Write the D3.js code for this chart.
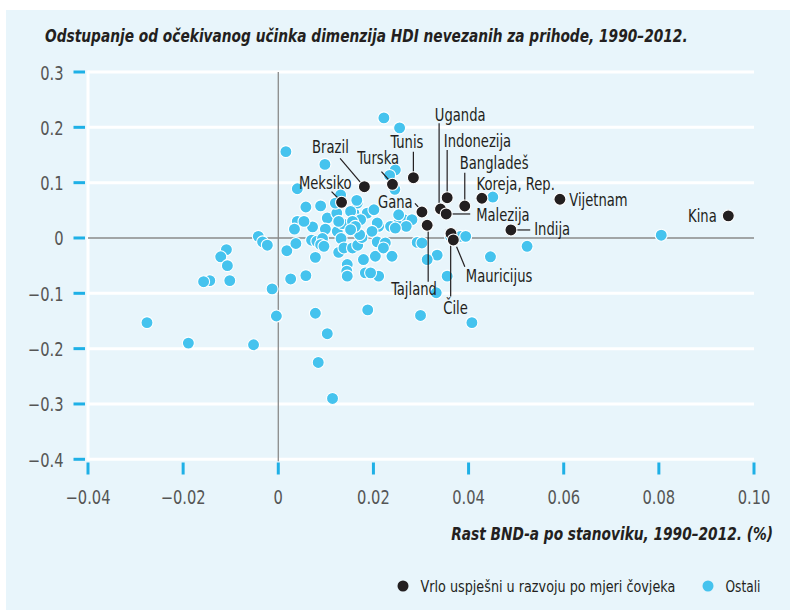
<!DOCTYPE html>
<html>
<head>
<meta charset="utf-8">
<script src="https://cdn.jsdelivr.net/npm/d3@7"></script>
<style>
  body { margin: 0; background: #fff; }
  svg text { font-family: "Liberation Sans Narrow", "DejaVu Sans Condensed", sans-serif; }
</style>
</head>
<body>
<div id="chart"></div>
<script>
// ---- data ----
var xTicks = [-0.04, -0.02, 0, 0.02, 0.04, 0.06, 0.08, 0.10];
var xTickLabels = ["\u22120.04", "\u22120.02", "0", "0.02", "0.04", "0.06", "0.08", "0.10"];
var yTicks = [0.3, 0.2, 0.1, 0, -0.1, -0.2, -0.3, -0.4];
var yTickLabels = ["0.3", "0.2", "0.1", "0", "\u22120.1", "\u22120.2", "\u22120.3", "\u22120.4"];

// [GNI growth, deviation]
var others = [
  [0.0222, 0.217], [0.0255, 0.199], [0.0016, 0.156], [0.0098, 0.133], [0.0040, 0.089],
  [0.0246, 0.123], [0.0234, 0.113], [0.0245, 0.088], [0.0451, 0.074], [0.0805, 0.005],
  [0.0523, -0.015], [0.0446, -0.034], [0.0362, 0.003], [0.0383, 0.003], [0.0394, 0.003],
  [0.0407, -0.153], [0.0299, -0.140], [0.0188, -0.130], [0.0078, -0.136], [0.0103, -0.173],
  [-0.0004, -0.141], [-0.0013, -0.092], [0.0332, -0.099], [0.0084, -0.225], [0.0114, -0.290],
  [-0.0052, -0.193], [-0.0189, -0.190], [-0.0276, -0.153], [-0.0042, 0.003], [-0.0033, -0.007],
  [-0.0023, -0.013], [-0.0109, -0.021], [-0.0121, -0.034], [-0.0107, -0.050], [-0.0102, -0.077],
  [-0.0144, -0.077], [-0.0157, -0.079], [0.0018, -0.023], [0.0037, -0.010], [0.0026, -0.074],
  [0.0058, -0.068], [0.0078, -0.035], [0.0058, 0.056], [0.0089, 0.058], [0.0040, 0.030],
  [0.0034, 0.016], [0.0072, 0.020], [0.0103, 0.036], [0.0099, 0.016], [0.0070, -0.004],
  [0.0081, -0.006], [0.0093, -0.001], [0.0089, -0.012], [0.0124, 0.012], [0.0132, -0.001],
  [0.0127, -0.026], [0.0138, -0.018], [0.0156, -0.018], [0.0167, -0.013], [0.0145, -0.048],
  [0.0144, -0.060], [0.0145, -0.069], [0.0123, 0.045], [0.0159, 0.045], [0.0162, 0.033],
  [0.0166, 0.063], [0.0131, 0.078], [0.0165, 0.068], [0.0120, 0.063], [0.0152, 0.048],
  [0.0187, 0.045], [0.0173, 0.033], [0.0135, 0.026], [0.0156, 0.030], [0.0201, 0.051],
  [0.0211, 0.021], [0.0208, 0.027], [0.0264, 0.033], [0.0281, 0.033], [0.0250, 0.024],
  [0.0236, 0.021], [0.0253, 0.042], [0.0269, 0.021], [0.0292, -0.008], [0.0302, -0.009],
  [0.0334, -0.031], [0.0313, -0.039], [0.0096, -0.015], [0.0176, 0.001], [0.0171, 0.006],
  [0.0162, 0.021], [0.0197, 0.012], [0.0208, -0.007], [0.0179, -0.039], [0.0183, -0.063],
  [0.0211, -0.069], [0.0204, -0.033], [0.0152, 0.015], [0.0246, 0.018], [0.0225, -0.009],
  [0.0221, -0.018], [0.0239, -0.033], [0.0194, -0.063], [0.0355, -0.069], [0.0127, 0.030],
  [0.0054, 0.030]
];

var achievers = [
  { name: "Kina", x: 0.0946, y: 0.040 },
  { name: "Vijetnam", x: 0.0592, y: 0.070 },
  { name: "Indija", x: 0.0489, y: 0.0145 },
  { name: "Koreja, Rep.", x: 0.0428, y: 0.0718 },
  { name: "Bangladeš", x: 0.0392, y: 0.0578 },
  { name: "Indonezija", x: 0.0355, y: 0.0728 },
  { name: "Uganda", x: 0.0341, y: 0.0524 },
  { name: "Malezija", x: 0.0353, y: 0.0434 },
  { name: "Tunis", x: 0.0284, y: 0.109 },
  { name: "Turska", x: 0.0240, y: 0.097 },
  { name: "Brazil", x: 0.0181, y: 0.0927 },
  { name: "Meksiko", x: 0.0133, y: 0.0645 },
  { name: "Gana", x: 0.0302, y: 0.047 },
  { name: "Tajland", x: 0.0313, y: 0.023 },
  { name: "Čile", x: 0.0363, y: 0.008 },
  { name: "Mauricijus", x: 0.0368, y: -0.0036 }
];

var legendItems = ["Vrlo uspješni u razvoju po mjeri čovjeka", "Ostali"];

// label placement, offsets in px from the point
var labelLayout = {
  "Kina":         { dx: -11.6, dy: 5.7, anchor: "end" },
  "Vijetnam":     { dx: 9.3, dy: 6.7, anchor: "start" },
  "Indija":       { dx: 23.3, dy: 5, anchor: "start", line: [5, 0, 19.3, 0] },
  "Koreja, Rep.": { dx: -5.3, dy: -8.3, anchor: "start" },
  "Bangladeš":    { dx: -5, dy: -37, anchor: "start", line: [0, -33.3, 0, 0] },
  "Indonezija":   { dx: -3.3, dy: -51, anchor: "start", line: [0, -47.7, 0, 0] },
  "Uganda":       { dx: -5.7, dy: -88.3, anchor: "start", line: [-1.4, -85.7, -1.4, 0] },
  "Malezija":     { dx: 30, dy: 6.7, anchor: "start", line: [4, 0, 24, 0] },
  "Tunis":        { dx: 10, dy: -29.4, anchor: "end", line: [0, -26, 0, 0] },
  "Turska":       { dx: 6.6, dy: -20.3, anchor: "end", line: [-11, -12.6, -2.7, -3.3] },
  "Brazil":       { dx: -15.6, dy: -34, anchor: "end", line: [-24.3, -28.4, -2, -2] },
  "Meksiko":      { dx: 10, dy: -13, anchor: "end", line: [-10, -10.6, -1.7, -2.3] },
  "Gana":         { dx: -9.3, dy: -3.7, anchor: "end", line: [-7, -8.7, -1, -2] },
  "Tajland":      { dx: 9.7, dy: 69.7, anchor: "end", line: [1, 0, 1, 56.4] },
  "Čile":         { dx: -7.7, dy: 80.8, anchor: "start", line: [-0.3, 0, -0.3, 63] },
  "Mauricijus":   { dx: 12.5, dy: 42, anchor: "start", line: [3.2, 6.7, 11.5, 26.7] }
};

// ---- layout ----
var width = 790, height = 614;
var blue = "#45c3ee", black = "#231f20", tickBlue = "#1fb0e6", panel = "#e8f5fb";
var squeeze = 0.86;   // condensed look from the wider fallback font

var x = d3.scaleLinear().domain([-0.04, 0.10]).range([88, 754]);
var y = d3.scaleLinear().domain([-0.4, 0.3]).range([459.3, 72]);

function place(px, py, sx) {
  return "translate(" + px + "," + py + ") scale(" + sx + ",1)";
}

// squeeze a text to a given width, keeping its anchor point
function fitWidth(sel, px, py, w) {
  var natural = sel.node().getComputedTextLength();
  sel.attr("transform", place(px, py, w / natural));
}

var svg = d3.select("#chart").append("svg")
  .attr("width", width)
  .attr("height", height);

svg.append("rect")
  .attr("x", 6).attr("y", 10)
  .attr("width", width - 6).attr("height", 600)
  .attr("fill", panel);

// title
var title = svg.append("text")
  .attr("font-size", 17).attr("font-weight", "bold").attr("font-style", "italic")
  .attr("fill", black)
  .text("Odstupanje od očekivanog učinka dimenzija HDI nevezanih za prihode, 1990–2012.");
fitWidth(title, 45, 42, 643);

// white grid
svg.append("g").selectAll("line")
  .data(yTicks.filter(function(d) { return d !== 0; }))
  .enter().append("line")
    .attr("x1", x(-0.04)).attr("x2", x(0.10))
    .attr("y1", function(d) { return y(d); })
    .attr("y2", function(d) { return y(d); })
    .attr("stroke", "#fff").attr("stroke-width", 3);

svg.append("line")
  .attr("x1", x(-0.04)).attr("x2", x(-0.04))
  .attr("y1", y(0.3) - 1.5).attr("y2", y(-0.4) + 1.5)
  .attr("stroke", "#fff").attr("stroke-width", 3);

// zero lines
svg.append("line")
  .attr("x1", x(-0.04)).attr("x2", x(0.10))
  .attr("y1", y(0)).attr("y2", y(0))
  .attr("stroke", "#8a8a8a").attr("stroke-width", 1.3);
svg.append("line")
  .attr("x1", x(0)).attr("x2", x(0))
  .attr("y1", y(0.3)).attr("y2", y(-0.4) + 2)
  .attr("stroke", "#8a8a8a").attr("stroke-width", 1.3);

// y axis ticks + labels
var yAxis = svg.append("g");
yAxis.selectAll("line")
  .data(yTicks).enter().append("line")
    .attr("x1", 73.5).attr("x2", 85)
    .attr("y1", function(d) { return y(d); })
    .attr("y2", function(d) { return y(d); })
    .attr("stroke", tickBlue).attr("stroke-width", 3);
yAxis.selectAll("text")
  .data(yTicks).enter().append("text")
    .attr("transform", function(d) { return place(63.5, y(d) + 7.5, squeeze); })
    .attr("text-anchor", "end")
    .attr("font-size", 19).attr("fill", "#555")
    .text(function(d, i) { return yTickLabels[i]; });

// x axis ticks + labels
var xAxis = svg.append("g");
xAxis.selectAll("line")
  .data(xTicks).enter().append("line")
    .attr("x1", function(d) { return x(d); })
    .attr("x2", function(d) { return x(d); })
    .attr("y1", 462.5).attr("y2", 474.5)
    .attr("stroke", tickBlue).attr("stroke-width", 3);
xAxis.selectAll("text")
  .data(xTicks).enter().append("text")
    .attr("transform", function(d) { return place(x(d), 504, squeeze); })
    .attr("text-anchor", "middle")
    .attr("font-size", 19).attr("fill", "#555")
    .text(function(d, i) { return xTickLabels[i]; });

var xTitle = svg.append("text")
  .attr("text-anchor", "end")
  .attr("font-size", 17).attr("font-weight", "bold").attr("font-style", "italic")
  .attr("fill", black)
  .text("Rast BND-a po stanoviku, 1990–2012. (%)");
fitWidth(xTitle, 773, 540, 322);

// points
svg.append("g").selectAll("circle")
  .data(others).enter().append("circle")
    .attr("cx", function(d) { return x(d[0]); })
    .attr("cy", function(d) { return y(d[1]); })
    .attr("r", 6)
    .attr("fill", blue)
    .attr("stroke", "#fff").attr("stroke-width", 1.1);

// leader lines
svg.append("g").selectAll("line")
  .data(achievers.filter(function(d) { return labelLayout[d.name].line; }))
  .enter().append("line")
    .attr("x1", function(d) { return x(d.x) + labelLayout[d.name].line[0]; })
    .attr("y1", function(d) { return y(d.y) + labelLayout[d.name].line[1]; })
    .attr("x2", function(d) { return x(d.x) + labelLayout[d.name].line[2]; })
    .attr("y2", function(d) { return y(d.y) + labelLayout[d.name].line[3]; })
    .attr("stroke", black).attr("stroke-width", 1.2);

svg.append("g").selectAll("circle")
  .data(achievers).enter().append("circle")
    .attr("cx", function(d) { return x(d.x); })
    .attr("cy", function(d) { return y(d.y); })
    .attr("r", 6)
    .attr("fill", black)
    .attr("stroke", "#fff").attr("stroke-width", 1.1);

svg.append("g").selectAll("text")
  .data(achievers).enter().append("text")
    .attr("transform", function(d) {
      var l = labelLayout[d.name];
      return place(x(d.x) + l.dx, y(d.y) + l.dy, squeeze);
    })
    .attr("text-anchor", function(d) { return labelLayout[d.name].anchor; })
    .attr("font-size", 17).attr("fill", black)
    .text(function(d) { return d.name; });

// legend
var legend = svg.append("g");
var legendX = [403, 708];
var legendWidths = [255, 35];
var legendColors = [black, blue];
legend.selectAll("circle")
  .data(legendItems).enter().append("circle")
    .attr("cx", function(d, i) { return legendX[i]; })
    .attr("cy", 586)
    .attr("r", 5.5)
    .attr("fill", function(d, i) { return legendColors[i]; });
legend.selectAll("text")
  .data(legendItems).enter().append("text")
    .attr("font-size", 16.5).attr("fill", black)
    .text(function(d) { return d; })
    .each(function(d, i) { fitWidth(d3.select(this), legendX[i] + 17.5, 591.5, legendWidths[i]); });
</script>
</body>
</html>
